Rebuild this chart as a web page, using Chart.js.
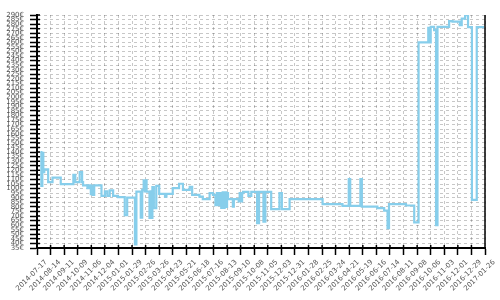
<!DOCTYPE html>
<html>
<head>
<meta charset="utf-8">
<script src="https://cdn.jsdelivr.net/npm/chart.js@4/dist/chart.umd.min.js"></script>
<style>
  html, body { margin: 0; padding: 0; background: #fff; }
  #wrap { width: 500px; height: 300px; }
</style>
</head>
<body>
<div id="wrap"><canvas id="myChart"></canvas></div>
<script>
// days counted from the first tick date
var startDate = Date.UTC(2014, 6, 17);
var days = [7, 9, 11, 13, 15, 23, 32, 49, 75, 79, 88, 93, 95, 104, 108,
  111, 114, 115, 118, 133, 140, 145, 150, 157, 167, 181, 186, 202, 205, 214, 217,
  220, 222, 224, 226, 232, 234, 236, 238, 241, 246, 252, 264, 267, 280, 293, 301,
  315, 320, 335, 342, 356, 363, 368, 371, 374, 377, 380, 383, 385, 387, 390, 392,
  394, 404, 406, 416, 418, 421, 423, 425, 436, 442, 454, 458, 467, 471, 483, 500,
  505, 521, 589, 630, 643, 646, 667, 670, 702, 716, 723, 726, 761, 778, 787, 807,
  809, 812, 819, 823, 826, 850, 857, 872, 876, 883, 889, 897, 907, 922];
var prices = [140, 103, 139, 118, 121, 107, 112, 105, 115, 107, 118, 107, 103.5, 100.5, 103.5,
  94, 103, 93, 103.5, 92, 97, 92, 98, 92, 90.7, 71, 90.2, 39, 96.8, 68.3, 98.7,
  109, 97, 109, 96.8, 68, 97, 68, 101.6, 78.6, 103, 94.3, 91.3, 94.3, 100.5, 105.3, 98.7,
  102, 93.2, 91.3, 88.5, 95.1, 93.2, 82, 95, 82, 95, 79, 96, 79, 96, 80, 95,
  88.5, 80.3, 88.5, 86, 95, 86, 95, 96.5, 92.1, 96.5, 62.1, 96.5, 63.9, 96.5, 77.5, 95.1,
  77.5, 88.5, 83, 81.1, 110.4, 81.1, 110.4, 80.3, 78.6, 76, 56.6, 83, 81.5, 63, 260, 276,
  260, 277, 273.5, 60, 277, 283.4, 282.7, 279, 286, 289.7, 276.8, 87.7, 276.8, 276.8];

var xMin = 0, xMax = 924, xStep = 28;
var yMin = 35, yMax = 290, yStep = 5;

var points = days.map(function (d, i) { return {x: d, y: prices[i]}; });

function FormatDate(v) {
  return new Date(startDate + v * 86400000).toISOString().slice(0, 10);
}

// right frame line and the short tick stubs inside the plot
const frame = {
  id: 'frame',
  afterDraw(chart) {
    const ctx = chart.ctx, a = chart.chartArea;
    const sx = chart.scales.x, sy = chart.scales.y;
    ctx.save();
    ctx.strokeStyle = '#000';
    ctx.lineWidth = 1.5;
    ctx.beginPath();
    ctx.moveTo(a.right, a.top);
    ctx.lineTo(a.right, a.bottom);
    sy.ticks.forEach(function (t, i) {
      var p = sy.getPixelForTick(i);
      ctx.moveTo(a.left, p);
      ctx.lineTo(a.left + 3, p);
    });
    sx.ticks.forEach(function (t, i) {
      var p = sx.getPixelForTick(i);
      ctx.moveTo(p, a.bottom);
      ctx.lineTo(p, a.bottom - 3);
    });
    ctx.stroke();
    ctx.restore();
  }
};

const tickFont = {family: 'DejaVu Sans', size: 7};

const config = {
  type: 'line',
  data: {
    datasets: [{
      data: points,
      borderColor: '#87ceeb',
      backgroundColor: '#87ceeb',
      borderWidth: 2.2,
      stepped: true,
      pointRadius: 0,
      fill: false
    }]
  },
  options: {
    responsive: true,
    maintainAspectRatio: false,
    animation: false,
    layout: {padding: {top: 15, right: 15, bottom: 0, left: 0}},
    plugins: {legend: {display: false}, tooltip: {enabled: false}},
    scales: {
      x: {
        type: 'linear',
        min: xMin,
        max: xMax,
        afterFit: function (s) { s.height = 52; },
        ticks: {
          stepSize: xStep,
          autoSkip: false,
          minRotation: 45,
          maxRotation: 45,
          labelOffset: 9,
          padding: 3,
          color: '#555',
          font: tickFont,
          callback: function (v) { return FormatDate(v); }
        },
        grid: {color: 'rgba(0,0,0,0.22)', tickColor: '#000', tickLength: 7, tickWidth: 1.5, tickBorderDash: []},
        border: {color: '#000', width: 2, dash: [3, 3]}
      },
      y: {
        min: yMin,
        max: yMax,
        afterFit: function (s) { s.width = 37; },
        ticks: {
          stepSize: yStep,
          autoSkip: false,
          padding: 6,
          color: '#555',
          font: tickFont,
          callback: function (v) { return v + '€'; }
        },
        grid: {color: 'rgba(0,0,0,0.22)', tickColor: '#000', tickLength: 7, tickWidth: 1.5, tickBorderDash: []},
        border: {color: '#000', width: 2, dash: [3, 3]}
      }
    }
  },
  plugins: [frame]
};

var myChart = new Chart(document.getElementById('myChart'), config);
</script>
</body>
</html>
